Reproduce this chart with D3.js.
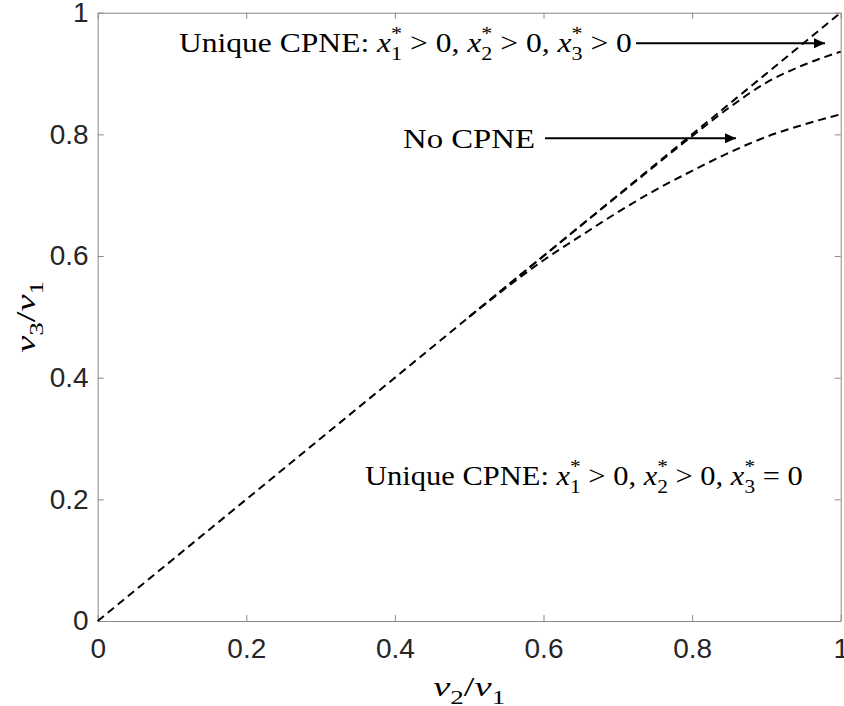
<html>
<meta charset="utf-8" />
<head>
<title>CPNE regions</title>
<script src="https://cdn.jsdelivr.net/npm/d3@7"></script>
<style>
	body { margin: 0; background: #fff; }
	svg { display: block; }
</style>
<script>
// tick values
const xTicks = [0, 0.2, 0.4, 0.6, 0.8, 1];
const yTicks = [0, 0.2, 0.4, 0.6, 0.8, 1];

// boundary y = x
const diagX = [0, 1];
const diagY = [0, 1];

// lower boundary (ends near 5/6)
const lowX = [0.50, 0.55, 0.60, 0.65, 0.70, 0.75, 0.80, 0.85, 0.90, 0.95, 1.00];
const lowY = [0.500, 0.548, 0.593, 0.633, 0.672, 0.708, 0.740, 0.770, 0.796, 0.816, 0.833];

// upper boundary, hugs the diagonal until ~0.8
const upX = [0.50, 0.60, 0.70, 0.80, 0.85, 0.90, 0.95, 1.00];
const upY = [0.500, 0.600, 0.699, 0.797, 0.844, 0.885, 0.914, 0.936];

window.onload = function() {
	const W = 844, H = 706;
	const m = { left: 97.7, right: 3.3, top: 12.7, bottom: 85 };
	const serif = '"Liberation Serif", "DejaVu Serif", serif';
	const sans = '"Liberation Sans", Arial, Helvetica, sans-serif';

	const svg = d3.select('svg').attr('width', W).attr('height', H);

	const x = d3.scaleLinear().domain([0, 1]).range([m.left, W - m.right]);
	const y = d3.scaleLinear().domain([0, 1]).range([H - m.bottom, m.top]);
	const fmt = d => d3.format('~g')(d);

	// 4면 박스 + 안쪽 눈금 (matlab 스타일)
	const gx = svg.append('g').attr('transform', 'translate(0,' + y(0) + ')')
		.call(d3.axisBottom(x).tickValues(xTicks).tickFormat(fmt).tickSizeInner(-6).tickSizeOuter(0).tickPadding(17));
	const gy = svg.append('g').attr('transform', 'translate(' + x(0) + ',0)')
		.call(d3.axisLeft(y).tickValues(yTicks).tickFormat(fmt).tickSizeInner(-6).tickSizeOuter(0).tickPadding(9));
	const gt = svg.append('g').attr('transform', 'translate(0,' + y(1) + ')')
		.call(d3.axisTop(x).tickValues(xTicks).tickFormat('').tickSizeInner(-6).tickSizeOuter(0));
	const gr = svg.append('g').attr('transform', 'translate(' + x(1) + ',0)')
		.call(d3.axisRight(y).tickValues(yTicks).tickFormat('').tickSizeInner(-6).tickSizeOuter(0));

	[gx, gy, gt, gr].forEach(g => {
		g.select('.domain').attr('stroke', '#8a8a8a').attr('stroke-width', 1);
		g.selectAll('.tick line').attr('stroke', '#8a8a8a');
		g.selectAll('.tick text').attr('fill', '#262626').style('font-family', sans).style('font-size', '28px');
	});
	gt.selectAll('.tick text').remove();
	gr.selectAll('.tick text').remove();

	// dashed boundary lines
	const line = d3.line().x(d => x(d[0])).y(d => y(d[1]));
	const smooth = d3.line().x(d => x(d[0])).y(d => y(d[1])).curve(d3.curveMonotoneX);
	const dash = p => p.attr('fill', 'none').attr('stroke', '#000').attr('stroke-width', 2).attr('stroke-dasharray', '8,5');

	svg.append('path').attr('d', line(d3.zip(diagX, diagY))).call(dash);
	svg.append('path').attr('d', smooth(d3.zip(lowX, lowY))).call(dash);
	svg.append('path').attr('d', smooth(d3.zip(upX, upY))).call(dash);

	// math text: tspans with raised / lowered pieces
	function mathText(parent, parts, fs) {
		const t = parent.append('text').attr('font-family', serif).attr('font-size', fs).attr('fill', '#000');
		let shift = 0, supW = 0;
		parts.forEach(p => {
			const ts = t.append('tspan').text(p.s);
			let target = 0;
			if (p.k === 'sup') target = -0.42 * fs;
			if (p.k === 'sub') target = 0.28 * fs;
			if (p.k) ts.attr('font-size', fs * 0.7);
			if (p.it) ts.attr('font-style', 'italic');
			if (target - shift !== 0) ts.attr('dy', target - shift);
			shift = target;
			if (p.stack) ts.attr('dx', -supW);
			if (p.k === 'sup') supW = ts.node().getComputedTextLength();
		});
		return t;
	}
	// stretch a text to a given width, left edge x0, baseline by
	function fit(t, x0, w, by, rot) {
		const b = t.node().getBBox();
		const sx = w / b.width;
		if (rot) {
			t.attr('transform', 'translate(' + by + ',' + x0 + ') rotate(-90) scale(' + sx + ',1) translate(' + (-b.x) + ',0)');
		} else {
			t.attr('transform', 'translate(' + x0 + ',' + by + ') scale(' + sx + ',1) translate(' + (-b.x) + ',0)');
		}
	}
	const cond = (last) => [
		{ s: 'Unique CPNE: ' },
		{ s: 'x', it: true }, { s: '*', k: 'sup' }, { s: '1', k: 'sub', stack: true },
		{ s: ' > 0, ' },
		{ s: 'x', it: true }, { s: '*', k: 'sup' }, { s: '2', k: 'sub', stack: true },
		{ s: ' > 0, ' },
		{ s: 'x', it: true }, { s: '*', k: 'sup' }, { s: '3', k: 'sub', stack: true },
		{ s: last }
	];

	// annotations, placed in data units
	const t1 = mathText(svg, cond(' > 0'), 28);
	fit(t1, x(0.1094), x(0.7191) - x(0.1094), y(0.9359));
	const t2 = mathText(svg, [{ s: 'No CPNE' }], 28);
	fit(t2, x(0.4109), x(0.5886) - x(0.4109), y(0.7771));
	const t3 = mathText(svg, cond(' = 0'), 28);
	fit(t3, x(0.3598), x(0.9493) - x(0.3598), y(0.2236));

	// arrows
	svg.append('defs').append('marker')
		.attr('id', 'head').attr('markerUnits', 'userSpaceOnUse')
		.attr('markerWidth', 12).attr('markerHeight', 10)
		.attr('refX', 11).attr('refY', 5).attr('orient', 'auto')
		.append('path').attr('d', 'M0,0 L11,5 L0,10 Z').attr('fill', '#000');

	const arrows = [
		{ x0: 0.7245, x1: 0.9789, y: 0.9497 },
		{ x0: 0.6020, x1: 0.8591, y: 0.7935 }
	];
	svg.selectAll('line.arrow').data(arrows).enter()
		.append('line').attr('class', 'arrow')
		.attr('x1', d => x(d.x0)).attr('x2', d => x(d.x1))
		.attr('y1', d => y(d.y)).attr('y2', d => y(d.y))
		.attr('stroke', '#000').attr('stroke-width', 2)
		.attr('marker-end', 'url(#head)');

	// axis labels v2/v1, v3/v1
	const lab = n => [{ s: 'v', it: true }, { s: n, k: 'sub' }, { s: '/' }, { s: 'v', it: true }, { s: '1', k: 'sub' }];
	const xl = mathText(svg, lab('2'), 28);
	fit(xl, (x(0) + x(1)) / 2 - 36, 72, 696);
	const yl = mathText(svg, lab('3'), 28);
	fit(yl, (y(0) + y(1)) / 2 + 36, 72, 35, true);
}
</script>
</head>
<body>
<svg></svg>
</body>
</html>
